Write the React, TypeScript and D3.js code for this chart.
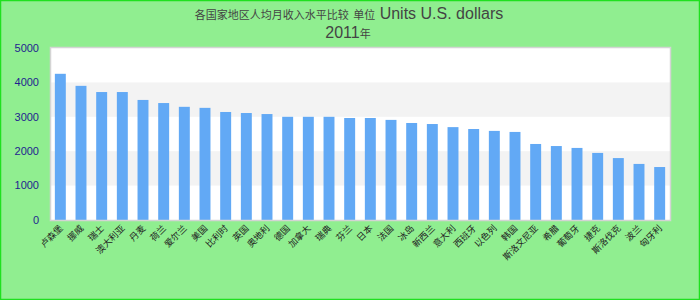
import React from "react";
import * as d3 from "d3";

const titleCjk = "各国家地区人均月收入水平比较";
const titleUnitCjk = "单位";
const titleLatin = " Units U.S. dollars";
const subtitleYear = "2011";
const subtitleCjk = "年";

const categories = [
  "卢森堡", "挪威", "瑞士", "澳大利亚", "丹麦", "荷兰", "爱尔兰", "美国", "比利时", "英国",
  "奥地利", "德国", "加拿大", "瑞典", "芬兰", "日本", "法国", "冰岛", "新西兰", "意大利",
  "西班牙", "以色列", "韩国", "斯洛文尼亚", "希腊", "葡萄牙", "捷克", "斯洛伐克", "波兰", "匈牙利",
];

const values = [
  4250, 3900, 3720, 3720, 3490, 3400, 3290, 3260, 3140, 3110,
  3080, 3000, 3000, 3000, 2965, 2965, 2910, 2820, 2790, 2700,
  2645, 2590, 2560, 2210, 2150, 2095, 1950, 1800, 1630, 1540,
];

const yTicks = [0, 1000, 2000, 3000, 4000, 5000];

const W = 700;
const H = 300;
const plot = { left: 50, right: 670, top: 48, bottom: 220 };
const FONT = "'Liberation Sans', Arial, 'Noto Sans CJK SC', sans-serif";

export default function App() {
  const x = d3
    .scaleBand<string>()
    .domain(categories)
    .range([plot.left, plot.right])
    .paddingInner(0.47)
    .paddingOuter(0.235);
  const y = d3.scaleLinear().domain([0, 5000]).range([plot.bottom, plot.top]);

  const bands = yTicks.slice(0, -1).map((t, i) => ({ lo: t, hi: yTicks[i + 1], i }));

  return (
    <svg
      width={W}
      height={H}
      style={{ position: "absolute", left: 0, top: 0, display: "block" }}
      fontFamily={FONT}
    >
      <rect x={0} y={0} width={W} height={H} fill="#90ee90" />
      <rect x={0.5} y={0.5} width={W - 1} height={H - 1} fill="none" stroke="#1fe01f" strokeWidth={1.5} />

      <text x={349} y={19} textAnchor="middle" fill="#444" fontSize={16}>
        <tspan fontSize={11}>{titleCjk}</tspan>
        <tspan fontSize={16}> </tspan>
        <tspan fontSize={11}>{titleUnitCjk}</tspan>
        <tspan>{titleLatin}</tspan>
      </text>
      <text x={348} y={38} textAnchor="middle" fill="#444" fontSize={16}>
        <tspan>{subtitleYear}</tspan>
        <tspan fontSize={11}>{subtitleCjk}</tspan>
      </text>

      {/* plot background */}
      <rect
        x={plot.left}
        y={plot.top}
        width={plot.right - plot.left}
        height={plot.bottom - plot.top}
        fill="#ffffff"
      />
      {bands.map((b) =>
        b.i % 2 === 1 ? (
          <rect
            key={b.lo}
            x={plot.left}
            y={y(b.hi)}
            width={plot.right - plot.left}
            height={y(b.lo) - y(b.hi)}
            fill="#f3f3f3"
          />
        ) : null
      )}

      {categories.map((c, i) => (
        <rect
          key={c}
          x={x(c)!}
          y={y(values[i])}
          width={x.bandwidth()}
          height={y(0) - y(values[i])}
          fill="#62a9f5"
        />
      ))}

      <rect
        x={plot.left + 0.5}
        y={plot.top - 0.5}
        width={plot.right - plot.left}
        height={plot.bottom - plot.top + 1}
        fill="none"
        stroke="#d4d4d4"
        strokeWidth={1.5}
      />

      {yTicks.map((t) => (
        <text
          key={t}
          x={39}
          y={y(t)}
          dy="0.35em"
          textAnchor="end"
          fill="#1f1f8f"
          fontSize={11}
        >
          {t}
        </text>
      ))}

      {categories.map((c) => {
        const cx = x(c)! + x.bandwidth() / 2;
        return (
          <text
            key={c}
            transform={`translate(${cx + 3},${229}) rotate(-45)`}
            textAnchor="end"
            fill="#222"
            fontSize={9}
          >
            {c}
          </text>
        );
      })}
    </svg>
  );
}
